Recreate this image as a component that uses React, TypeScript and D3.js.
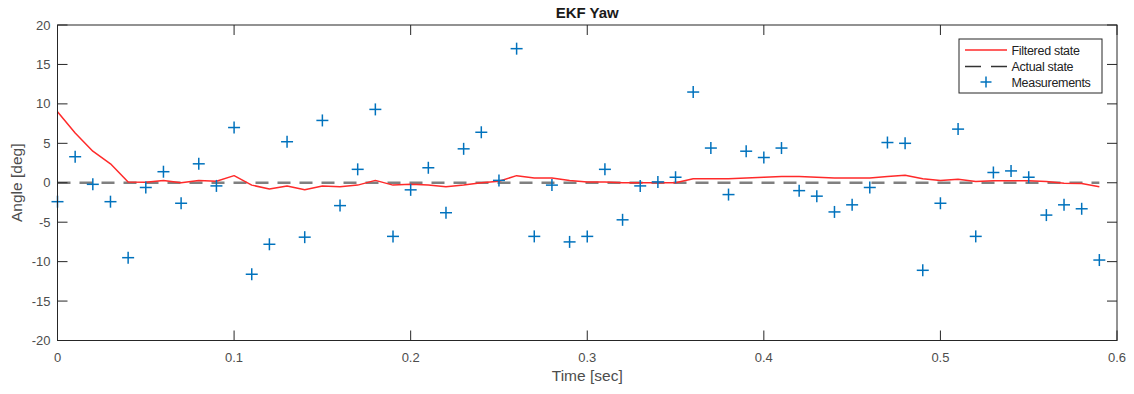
import React from "react";
import * as d3 from "d3";

const times: number[] = d3.range(60).map((i) => +(i * 0.01).toFixed(2));
const measurements: number[] = [
  -2.4, 3.3, -0.2, -2.4, -9.5, -0.6, 1.4, -2.6, 2.4, -0.4,
  7.0, -11.6, -7.8, 5.2, -6.9, 7.9, -2.9, 1.7, 9.3, -6.8,
  -0.9, 1.9, -3.8, 4.3, 6.4, 0.3, 17.0, -6.8, -0.3, -7.5,
  -6.8, 1.7, -4.7, -0.4, 0.1, 0.7, 11.5, 4.4, -1.5, 4.0,
  3.2, 4.4, -1.0, -1.7, -3.7, -2.8, -0.6, 5.1, 5.0, -11.1,
  -2.6, 6.8, -6.8, 1.3, 1.5, 0.7, -4.1, -2.8, -3.3, -9.8,
];
const filtered: number[] = [
  9.0, 6.3, 4.0, 2.4, 0.1, 0.05, 0.3, 0.0, 0.3, 0.2,
  0.9, -0.3, -0.8, -0.4, -0.9, -0.4, -0.5, -0.3, 0.3, -0.3,
  -0.2, -0.3, -0.5, -0.3, 0.0, 0.2, 0.9, 0.6, 0.6, 0.3,
  0.1, 0.1, 0.0, 0.0, 0.0, 0.0, 0.5, 0.5, 0.5, 0.6,
  0.7, 0.8, 0.8, 0.7, 0.6, 0.6, 0.6, 0.8, 0.95, 0.5,
  0.3, 0.45, 0.15, 0.25, 0.25, 0.25, 0.15, -0.05, -0.1, -0.5,
];
const actual: number[] = times.map(() => 0);
const xTicks: number[] = [0, 0.1, 0.2, 0.3, 0.4, 0.5, 0.6];
const yTicks: number[] = [-20, -15, -10, -5, 0, 5, 10, 15, 20];
const legendLabels: string[] = ["Filtered state", "Actual state", "Measurements"];

const W = 1134;
const H = 394;
const m = { left: 57.5, right: 1117, top: 25, bottom: 340.5 };
const FONT = "'Liberation Sans', Arial, Helvetica, sans-serif";
const AXC = "#262626";
const TICKC = "#4d4d4d";

export default function App() {
  const x = d3.scaleLinear().domain([0, 0.6]).range([m.left, m.right]);
  const y = d3.scaleLinear().domain([-20, 20]).range([m.bottom, m.top]);
  const lineF = d3
    .line<number>()
    .x((_, i) => x(times[i]))
    .y((d) => y(d));
  const tl = 10;
  const plus = (cx: number, cy: number, s: number, key: string) => (
    <g key={key} stroke="#0072BD" strokeWidth={1.5}>
      <line x1={cx - s} x2={cx + s} y1={cy} y2={cy} />
      <line x1={cx} x2={cx} y1={cy - s} y2={cy + s} />
    </g>
  );
  const lg = { x0: 959, y0: 39, x1: 1102, y1: 93 };
  return (
    <svg
      width={W}
      height={H}
      style={{ position: "absolute", left: 0, top: 0, background: "#fff" }}
      fontFamily={FONT}
    >
      <rect x={0} y={0} width={W} height={H} fill="#fff" />
      {/* data */}
      <path
        d={lineF(actual) || ""}
        fill="none"
        stroke="#808080"
        strokeWidth={2.5}
        strokeDasharray="13,9"
      />
      <path
        d={lineF(filtered) || ""}
        fill="none"
        stroke="#ff2a2a"
        strokeWidth={1.5}
        strokeLinejoin="round"
      />
      {measurements.map((v, i) => plus(x(times[i]), y(v), 6, "m" + i))}
      {/* axes box */}
      <rect
        x={m.left}
        y={m.top}
        width={m.right - m.left}
        height={m.bottom - m.top}
        fill="none"
        stroke={AXC}
        strokeWidth={1}
      />
      {xTicks.map((t) => (
        <g key={"xt" + t}>
          <line x1={x(t)} x2={x(t)} y1={m.bottom} y2={m.bottom - tl} stroke={AXC} />
          <line x1={x(t)} x2={x(t)} y1={m.top} y2={m.top + tl} stroke={AXC} />
          <text
            x={x(t)}
            y={m.bottom + 21}
            textAnchor="middle"
            fontSize={13}
            fill={TICKC}
          >
            {String(t)}
          </text>
        </g>
      ))}
      {yTicks.map((t) => (
        <g key={"yt" + t}>
          <line x1={m.left} x2={m.left + tl} y1={y(t)} y2={y(t)} stroke={AXC} />
          <line x1={m.right} x2={m.right - tl} y1={y(t)} y2={y(t)} stroke={AXC} />
          <text
            x={m.left - 7}
            y={y(t) + 4.5}
            textAnchor="end"
            fontSize={13}
            fill={TICKC}
          >
            {String(t)}
          </text>
        </g>
      ))}
      <text
        x={(m.left + m.right) / 2}
        y={18}
        textAnchor="middle"
        fontSize={15}
        fontWeight="bold"
        fill="#1a1a1a"
      >
        EKF Yaw
      </text>
      <text
        x={(m.left + m.right) / 2}
        y={381}
        textAnchor="middle"
        fontSize={15.5}
        fill={TICKC}
      >
        Time [sec]
      </text>
      <text
        transform={`translate(22,${(m.top + m.bottom) / 2}) rotate(-90)`}
        textAnchor="middle"
        fontSize={15.5}
        fill={TICKC}
      >
        Angle [deg]
      </text>
      {/* legend */}
      <rect
        x={lg.x0}
        y={lg.y0}
        width={lg.x1 - lg.x0}
        height={lg.y1 - lg.y0}
        fill="#fff"
        stroke={AXC}
        strokeWidth={1}
      />
      <line x1={965} x2={1007} y1={50} y2={50} stroke="#ff2a2a" strokeWidth={1.5} />
      <line
        x1={965}
        x2={1007}
        y1={66.5}
        y2={66.5}
        stroke="#333"
        strokeWidth={1.5}
        strokeDasharray="16,10"
      />
      {plus(986, 82, 5.5, "lgp")}
      {legendLabels.map((l, i) => (
        <text
          key={l}
          x={1011.5}
          y={55 + i * 16}
          fontSize={12.5}
          fill="#222"
          letterSpacing={-0.3}
        >
          {l}
        </text>
      ))}
    </svg>
  );
}
